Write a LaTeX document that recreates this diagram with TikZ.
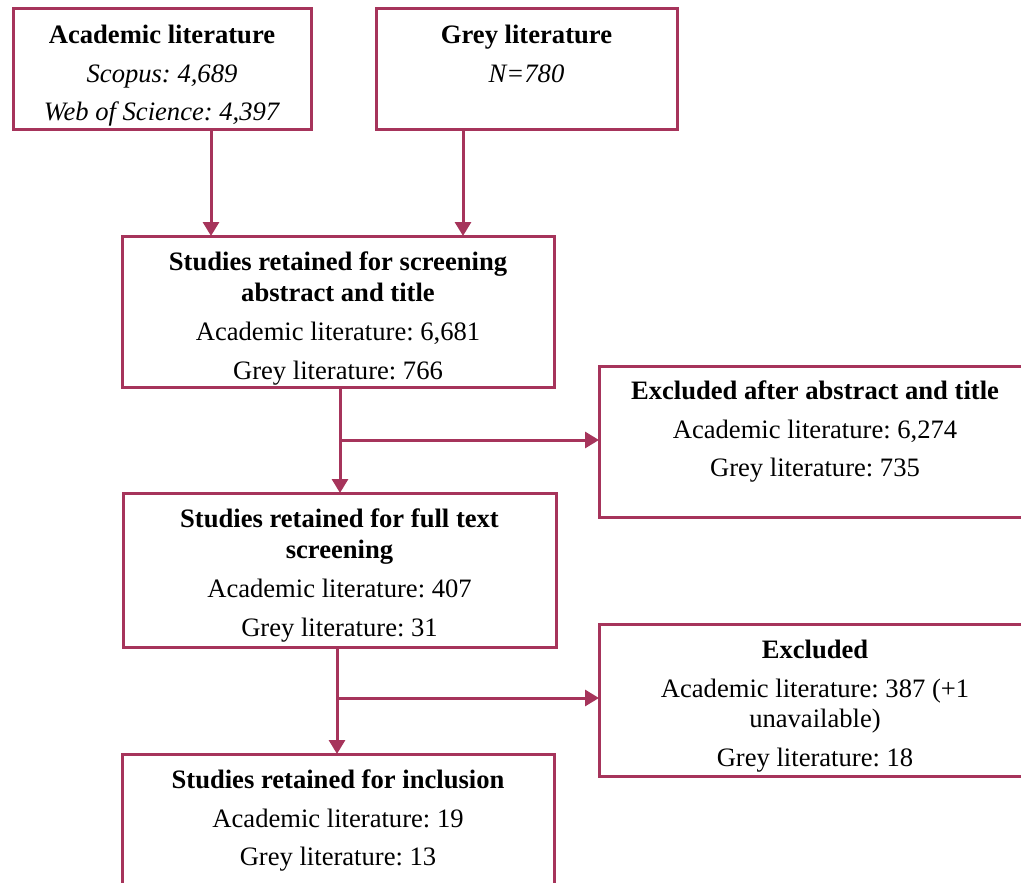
\documentclass[tikz,border=0pt]{standalone}
\usepackage{fontspec}
\setmainfont{Liberation Serif}
\usetikzlibrary{arrows.meta}
\definecolor{frame}{RGB}{166,52,91}
\frenchspacing
\begin{document}
\begin{tikzpicture}[x=1pt,y=-1pt,
  box/.style={draw=frame, line width=3pt, inner sep=0pt, outer sep=0pt},
  txt/.style={anchor=north, inner sep=0pt, align=center, font=\fontsize{26.6}{30.5}\selectfont},
  arr/.style={draw=frame, line width=3pt, -{Triangle[length=14pt,width=16pt]}},
  ln/.style={draw=frame, line width=3pt}]
\useasboundingbox (0,0) rectangle (1021,883);
% boxes
\node[box, minimum width=298pt, minimum height=120pt] (A) at (162,69) {};
\node[box, minimum width=301pt, minimum height=120pt] (G) at (526.5,69) {};
\node[box, minimum width=432pt, minimum height=151pt] (S1) at (338,311.5) {};
\node[box, minimum width=432pt, minimum height=151pt] (E1) at (815,441.5) {};
\node[box, minimum width=433pt, minimum height=154pt] (S2) at (339.5,570) {};
\node[box, minimum width=432pt, minimum height=152pt] (E2) at (815,700) {};
\node[box, minimum width=432pt, minimum height=170pt] (S3) at (338,839) {};
% texts
\node[txt] (At) at ([yshift=-13pt]A.north) {\strut\textbf{Academic literature}\\[8pt]\textit{Scopus: 4,689}\\[8pt]\textit{Web of Science: 4,397}};
\node[txt] (Gt) at ([yshift=-13pt]G.north) {\strut\textbf{Grey literature}\\[8pt]\textit{N=780}};
\node[txt] (S1t) at ([yshift=-13pt]S1.north) {\strut\textbf{Studies retained for screening}\\\textbf{abstract and title}\\[9pt]Academic literature: 6,681\\[8pt]Grey literature: 766};
\node[txt] (E1t) at ([yshift=-12pt]E1.north) {\strut\textbf{Excluded after abstract and title}\\[8pt]Academic literature: 6,274\\[8pt]Grey literature: 735};
\node[txt] (S2t) at ([yshift=-13pt]S2.north) {\strut\textbf{Studies retained for full text}\\\textbf{screening}\\[9pt]Academic literature: 407\\[8pt]Grey literature: 31};
\node[txt] (E2t) at ([yshift=-13pt]E2.north) {\strut\textbf{Excluded}\\[8pt]Academic literature: 387 (+1\\unavailable)\\[8pt]Grey literature: 18};
\node[txt] (S3t) at ([yshift=-13pt]S3.north) {\strut\textbf{Studies retained for inclusion}\\[8pt]Academic literature: 19\\[8pt]Grey literature: 13};
% connectors
\coordinate (ax) at (211,0);
\coordinate (gx) at (463,0);
\coordinate (j1) at (340,440);
\coordinate (j2) at (337,698);
\draw[arr] (A.south -| ax) -- (S1.north -| ax);
\draw[arr] (G.south -| gx) -- (S1.north -| gx);
\draw[arr] (S1.south -| j1) -- (S2.north -| j1);
\draw[arr] (j1) -- (j1 -| E1.west);
\draw[arr] (S2.south -| j2) -- (S3.north -| j2);
\draw[arr] (j2) -- (j2 -| E2.west);
\end{tikzpicture}
\end{document}
